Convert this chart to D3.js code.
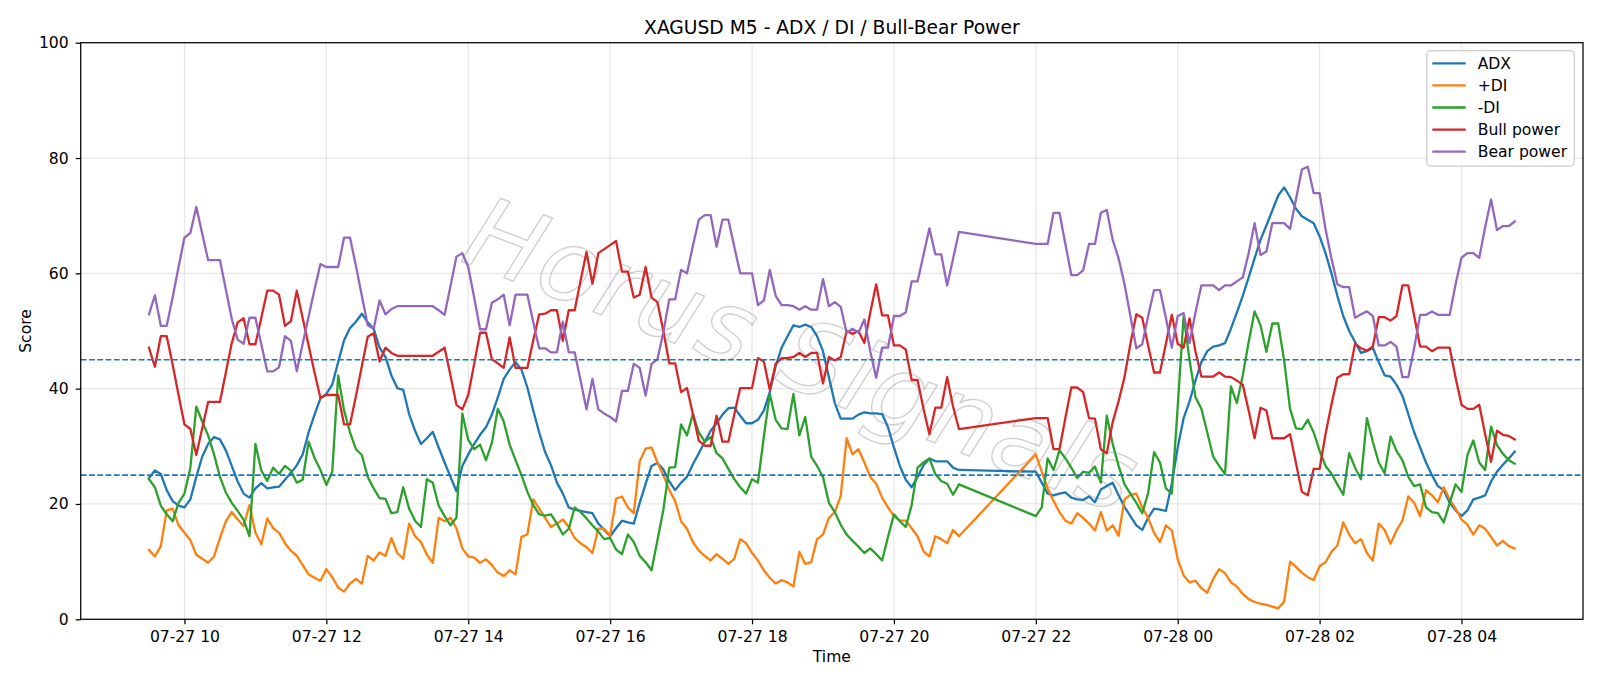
<!DOCTYPE html>
<html>
<head>
<meta charset="utf-8">
<script src="https://cdn.jsdelivr.net/npm/d3@7/dist/d3.min.js"></script>
<style>
  body { margin: 0; background: #fff; }
  svg text { font-family: "DejaVu Sans", sans-serif; }
</style>
</head>
<body>
<script>
// M5 bars, two sessions (market break 21:00 - 22:00)
var sessions = [
    ["2025-07-27 09:30", "2025-07-27 20:55"],
    ["2025-07-27 22:00", "2025-07-28 04:45"]
];

var adx = [
    24.5, 25.8, 25.2, 22.4, 20.5, 19.7, 19.4, 20.8, 24.7, 28.2, 30.4, 31.6, 31.2, 29.3, 26.6, 23.9, 21.8, 21.1, 22.7, 23.6,
    22.7, 22.9, 23.0, 24.2, 25.4, 26.7, 28.6, 32.4, 35.5, 38.3, 39.1, 40.7, 44.6, 48.4, 50.5, 51.6, 53.0, 51.5, 50.4, 47.1,
    45.5, 42.3, 40.1, 39.8, 35.6, 32.7, 30.4, 31.4, 32.5, 29.8, 27.2, 24.7, 22.2, 26.6, 28.6, 30.4, 32.0, 33.3, 35.5, 38.5,
    41.7, 43.3, 44.6, 43.3, 40.2, 36.2, 32.4, 29.0, 26.7, 23.7, 21.8, 19.4, 19.0, 18.8, 18.6, 18.4, 16.6, 15.5, 14.4, 15.8,
    17.1, 16.8, 16.6, 20.2, 23.5, 26.6, 27.1, 26.0, 23.9, 22.4, 23.7, 24.7, 26.9, 28.8, 30.8, 32.7, 34.0, 35.5, 36.6, 36.7,
    35.3, 34.0, 34.0, 34.6, 36.2, 39.4, 43.9, 47.1, 49.1, 51.0, 50.7, 51.1, 50.7, 49.1, 46.5, 42.0, 37.5, 34.8, 34.8, 34.8,
    35.5, 35.9, 35.7, 35.7, 35.6, 33.3, 29.8, 26.6, 24.2, 22.9, 24.7, 26.7, 27.9, 27.4, 27.4, 27.4, 26.3, 25.9,
    25.6, 23.7, 21.8, 21.5, 21.8, 22.0, 21.1, 20.8, 20.7, 21.3, 20.3, 22.5, 23.1, 23.7, 21.5, 19.5, 17.9, 16.3, 15.5, 17.6,
    19.2, 19.0, 18.8, 23.5, 29.8, 34.9, 37.8, 41.4, 44.6, 46.5, 47.3, 47.5, 47.9, 50.4, 53.2, 56.1, 59.3, 62.6, 65.8, 68.3,
    70.9, 73.5, 74.9, 73.2, 71.2, 69.9, 69.3, 68.7, 66.4, 63.5, 60.0, 56.1, 52.6, 50.0, 48.1, 46.2, 46.5, 47.1, 44.6, 42.3,
    42.1, 40.7, 38.8, 35.6, 32.4, 29.8, 27.2, 25.0, 23.1, 22.4, 20.2, 18.9, 17.9, 18.9, 20.8, 21.1, 21.5, 23.9, 25.6, 26.8,
    27.9, 29.1
];

var plusDI = [
    12.0, 10.9, 12.7, 18.9, 19.2, 16.3, 15.0, 13.7, 11.2, 10.5, 9.8, 10.9, 14.1, 17.0, 18.6, 17.3, 16.2, 19.8, 15.0, 13.0,
    17.5, 15.8, 15.0, 13.2, 11.9, 11.0, 9.4, 7.8, 7.2, 6.7, 8.7, 7.3, 5.5, 4.8, 6.2, 7.0, 6.2, 11.0, 10.2, 11.6,
    11.0, 14.1, 11.5, 10.5, 16.6, 14.4, 13.4, 11.2, 9.8, 17.6, 17.0, 17.6, 15.8, 12.3, 10.9, 10.7, 9.8, 10.4, 9.4, 8.1,
    7.5, 8.5, 7.8, 14.3, 14.7, 20.8, 19.2, 17.6, 16.0, 16.6, 17.3, 16.0, 14.1, 13.2, 12.5, 11.5, 15.7, 15.7, 14.5, 20.9,
    21.3, 19.4, 18.4, 27.4, 29.6, 29.8, 27.2, 25.0, 22.4, 20.5, 17.0, 15.7, 13.4, 11.9, 11.0, 10.2, 11.3, 10.5, 9.6, 10.5,
    13.9, 13.2, 11.5, 10.2, 8.5, 7.2, 6.2, 6.8, 6.4, 5.7, 11.7, 9.6, 9.9, 13.9, 14.7, 17.6, 18.6, 21.4, 31.4, 28.6,
    29.5, 27.2, 24.7, 23.5, 21.1, 19.4, 17.9, 17.1, 17.1, 15.8, 14.4, 11.8, 10.9, 14.4, 13.9, 13.2, 15.5, 14.4,
    28.6, 25.6, 22.7, 20.5, 18.6, 17.1, 16.6, 18.4, 17.6, 16.6, 15.4, 18.6, 15.4, 16.3, 14.5, 20.8, 21.6, 21.8, 19.4, 17.6,
    15.0, 13.4, 16.3, 15.4, 10.4, 7.6, 6.4, 6.7, 5.4, 4.6, 7.0, 8.7, 8.0, 6.4, 5.7, 4.4, 3.5, 3.0, 2.7, 2.5,
    2.2, 1.9, 3.1, 10.0, 9.1, 8.1, 7.3, 6.8, 9.2, 9.9, 11.7, 12.8, 16.8, 14.7, 13.2, 13.9, 11.5, 10.2, 16.6, 15.5,
    13.1, 15.4, 17.1, 21.3, 20.2, 17.9, 22.4, 21.5, 20.3, 22.9, 20.8, 19.2, 17.3, 16.4, 14.7, 16.3, 15.7, 14.3, 12.8, 13.6,
    12.7, 12.3
];

var minusDI = [
    24.3, 22.9, 19.7, 18.2, 17.0, 20.2, 21.8, 26.3, 36.9, 34.3, 31.9, 28.6, 24.7, 22.0, 20.2, 18.8, 17.3, 14.4, 30.4, 25.8,
    24.0, 26.3, 25.2, 26.6, 25.8, 23.7, 24.2, 30.8, 28.0, 25.9, 23.3, 25.6, 42.3, 36.2, 32.4, 29.5, 28.5, 24.7, 22.7, 21.0,
    20.9, 18.4, 18.6, 22.9, 19.2, 17.1, 16.0, 24.3, 23.7, 19.7, 17.9, 16.3, 17.6, 35.7, 31.1, 29.5, 30.3, 27.6, 30.6, 36.5,
    34.3, 30.3, 27.6, 25.0, 22.1, 19.8, 18.2, 18.0, 18.2, 16.6, 14.7, 15.7, 19.4, 18.6, 17.5, 16.3, 15.2, 13.9, 14.1, 12.1,
    11.3, 14.7, 13.4, 11.0, 9.9, 8.5, 13.7, 19.0, 26.3, 26.4, 33.8, 31.9, 35.6, 32.4, 30.8, 31.6, 28.8, 27.9, 26.1, 24.3,
    22.9, 21.8, 24.3, 23.7, 31.7, 39.1, 34.6, 33.1, 33.0, 39.1, 31.9, 35.1, 28.2, 26.6, 24.7, 20.2, 18.6, 16.4, 14.7, 13.6,
    12.6, 11.5, 12.3, 11.3, 10.2, 14.3, 18.2, 17.0, 16.0, 19.8, 26.3, 27.2, 27.9, 25.2, 24.0, 23.5, 21.6, 23.4,
    17.9, 19.4, 27.9, 25.9, 29.3, 27.9, 26.3, 24.5, 25.6, 25.4, 26.5, 23.7, 35.3, 30.4, 26.6, 23.4, 21.8, 20.2, 18.4, 21.9,
    29.0, 27.2, 22.7, 21.8, 36.9, 52.6, 45.0, 38.5, 36.5, 32.4, 28.2, 26.6, 25.2, 40.4, 37.5, 42.3, 48.1, 53.4, 51.0, 46.4,
    51.3, 51.3, 44.9, 36.5, 33.1, 33.0, 34.6, 32.4, 29.2, 26.6, 25.3, 23.4, 21.6, 28.8, 26.3, 24.3, 34.9, 30.8, 27.2, 25.3,
    31.7, 29.2, 27.6, 24.7, 23.1, 23.4, 19.4, 18.6, 18.4, 16.8, 20.2, 23.4, 22.1, 28.5, 31.0, 27.2, 25.9, 33.4, 30.2, 28.7,
    27.6, 27.0
];

var bullPower = [
    47.1, 43.8, 49.1, 49.1, 44.2, 38.9, 33.8, 33.0, 28.5, 33.1, 37.7, 37.7, 37.7, 42.8, 47.9, 51.5, 52.2, 47.7, 47.7, 52.3,
    57.0, 57.0, 56.3, 50.9, 51.7, 57.0, 52.2, 47.5, 42.8, 38.4, 38.9, 38.9, 38.9, 33.8, 33.8, 38.7, 43.9, 49.0, 49.6, 44.7,
    47.1, 46.2, 45.7, 45.7, 45.7, 45.7, 45.7, 45.7, 45.7, 46.4, 47.1, 42.3, 37.2, 36.4, 38.9, 44.3, 49.7, 49.7, 45.1, 44.4,
    43.6, 48.9, 43.6, 43.6, 43.6, 48.4, 52.9, 53.0, 53.6, 53.6, 48.3, 53.6, 53.6, 58.7, 63.7, 58.2, 63.5, 64.2, 64.9, 65.6,
    60.3, 60.3, 55.8, 56.3, 61.1, 55.8, 55.0, 50.0, 44.4, 44.4, 39.4, 40.1, 35.6, 31.0, 30.1, 30.1, 35.3, 30.8, 30.8, 35.5,
    40.1, 40.1, 40.1, 45.3, 44.7, 39.8, 44.3, 45.3, 45.3, 45.5, 46.2, 45.5, 46.2, 46.2, 40.9, 45.5, 44.9, 45.5, 50.0, 49.5,
    50.0, 47.9, 53.2, 58.1, 52.7, 52.7, 47.5, 47.5, 46.8, 41.5, 41.5, 36.5, 32.1, 36.7, 36.7, 42.0, 36.9, 33.0,
    34.9, 34.9, 34.9, 29.5, 29.5, 34.9, 40.2, 40.2, 39.4, 34.9, 34.8, 29.5, 28.8, 34.2, 37.8, 42.0, 47.8, 52.9, 52.3, 47.5,
    42.8, 42.8, 47.8, 52.8, 47.8, 47.1, 52.2, 46.5, 42.1, 42.1, 42.1, 42.8, 42.1, 42.0, 41.4, 40.7, 36.2, 31.4, 36.7, 36.2,
    31.4, 31.4, 31.4, 32.1, 27.1, 22.1, 21.5, 26.1, 26.1, 32.1, 37.2, 41.9, 42.5, 42.5, 47.8, 47.0, 46.6, 47.3, 52.4, 52.4,
    51.8, 52.6, 57.9, 57.9, 52.6, 47.3, 47.3, 46.5, 47.1, 47.1, 47.1, 41.9, 37.2, 36.5, 36.5, 37.2, 32.1, 27.3, 32.7, 32.0,
    31.8, 31.2
];

var bearPower = [
    52.9, 56.2, 50.9, 50.9, 55.8, 61.1, 66.2, 67.0, 71.5, 66.9, 62.3, 62.3, 62.3, 57.2, 52.1, 48.5, 47.8, 52.3, 52.3, 47.7,
    43.0, 43.0, 43.7, 49.1, 48.3, 43.0, 47.8, 52.5, 57.2, 61.6, 61.1, 61.1, 61.1, 66.2, 66.2, 61.3, 56.1, 51.0, 50.4, 55.3,
    52.9, 53.8, 54.3, 54.3, 54.3, 54.3, 54.3, 54.3, 54.3, 53.6, 52.8, 57.8, 62.9, 63.5, 61.1, 55.8, 50.3, 50.3, 54.9, 55.5,
    56.3, 51.0, 56.3, 56.3, 56.3, 51.5, 47.0, 47.0, 46.3, 46.3, 51.6, 46.3, 46.3, 41.4, 36.4, 41.7, 36.4, 35.7, 35.1, 34.3,
    39.6, 39.6, 44.3, 43.6, 38.8, 44.3, 45.1, 49.8, 55.5, 55.5, 60.6, 60.0, 64.8, 69.3, 70.1, 70.1, 64.6, 69.3, 69.3, 64.6,
    60.0, 60.0, 60.0, 54.5, 55.3, 60.6, 56.1, 54.5, 54.5, 54.3, 53.7, 54.3, 53.7, 53.7, 59.0, 54.3, 55.0, 54.2, 49.7, 50.4,
    49.7, 52.0, 46.5, 41.9, 47.1, 47.1, 52.6, 52.6, 53.2, 58.6, 58.6, 63.2, 67.8, 63.3, 63.3, 57.9, 62.5, 67.2,
    65.1, 65.1, 65.1, 70.5, 70.5, 65.1, 59.7, 59.7, 60.5, 65.1, 65.1, 70.5, 71.0, 65.8, 62.6, 58.1, 52.6, 47.0, 47.7, 52.6,
    57.1, 57.1, 52.3, 47.1, 52.6, 53.1, 47.9, 53.2, 57.9, 57.9, 57.9, 57.1, 57.9, 57.9, 58.6, 59.3, 63.5, 68.7, 63.2, 63.8,
    68.7, 68.7, 68.7, 67.7, 72.8, 78.0, 78.5, 73.9, 73.9, 67.7, 62.6, 58.1, 57.6, 57.6, 52.3, 52.9, 53.4, 52.6, 47.5, 47.5,
    48.1, 47.3, 42.0, 42.0, 47.1, 52.8, 52.8, 53.4, 52.8, 52.8, 52.8, 58.1, 62.7, 63.5, 63.5, 62.7, 68.0, 72.8, 67.5, 68.2,
    68.2, 69.0
];

var seriesNames = ["ADX", "+DI", "-DI", "Bull power", "Bear power"];
var seriesColors = ["#1f77b4", "#ff7f0e", "#2ca02c", "#d62728", "#9467bd"];
var levels = [45, 25];
var yTicks = [0, 20, 40, 60, 80, 100];

// set the dimensions and margins of the graph
var margin = {top: 42.7, right: 17, bottom: 66.7, left: 80.7},
    width = 1600 - margin.left - margin.right,
    height = 686 - margin.top - margin.bottom;

var parseTime = d3.timeParse("%Y-%m-%d %H:%M");
var formatTick = d3.timeFormat("%m-%d %H");

// bar times of every session
var times = [];
sessions.forEach(function(s) {
    var a = parseTime(s[0]), b = parseTime(s[1]);
    times = times.concat(d3.timeMinute.every(5).range(a, d3.timeMinute.offset(b, 1)));
});

var values = [adx, plusDI, minusDI, bullPower, bearPower];

// matplotlib style 5% margins on the time axis
var t0 = times[0], t1 = times[times.length - 1];
var pad = (t1 - t0) * 0.05;
var x = d3.scaleTime()
    .domain([new Date(+t0 - pad), new Date(+t1 + pad)])
    .range([0, width]);
var y = d3.scaleLinear().domain([0, 100]).range([height, 0]);

var svg = d3.select("body").append("svg")
    .attr("width", 1600)
    .attr("height", 686);

var g = svg.append("g")
    .attr("transform", "translate(" + margin.left + "," + margin.top + ")");

var xTicks = x.ticks(d3.timeHour.every(2));

// grid
g.append("g").selectAll("line").data(xTicks).enter().append("line")
    .attr("x1", function(d) { return x(d); })
    .attr("x2", function(d) { return x(d); })
    .attr("y1", 0).attr("y2", height)
    .attr("stroke", "#b0b0b0").attr("stroke-opacity", 0.3).attr("stroke-width", 1.25);
g.append("g").selectAll("line").data(yTicks).enter().append("line")
    .attr("x1", 0).attr("x2", width)
    .attr("y1", function(d) { return y(d); })
    .attr("y2", function(d) { return y(d); })
    .attr("stroke", "#b0b0b0").attr("stroke-opacity", 0.3).attr("stroke-width", 1.25);

// watermark
g.append("text")
    .attr("transform", "translate(" + (800 - margin.left) + "," + (362 - margin.top) + ") rotate(21)")
    .attr("text-anchor", "middle")
    .attr("dominant-baseline", "middle")
    .style("font-size", "100px")
    .style("font-style", "italic")
    .style("letter-spacing", "2px")
    .attr("fill", "none")
    .attr("stroke", "#999999")
    .attr("stroke-width", 1.4)
    .attr("opacity", 0.45)
    .text("Horus Signals");

var line = d3.line()
    .x(function(d) { return x(d[0]); })
    .y(function(d) { return y(d[1]); });

values.forEach(function(vals, i) {
    var pts = times.map(function(t, k) { return [t, vals[k]]; });
    g.append("path")
        .datum(pts)
        .attr("fill", "none")
        .attr("stroke", seriesColors[i])
        .attr("stroke-width", 2.3)
        .attr("stroke-linejoin", "round")
        .attr("stroke-linecap", "square")
        .attr("d", line);
});

// threshold lines
g.append("g").selectAll("line").data(levels).enter().append("line")
    .attr("x1", 0).attr("x2", width)
    .attr("y1", function(d) { return y(d); })
    .attr("y2", function(d) { return y(d); })
    .attr("stroke", "#1f77b4")
    .attr("stroke-width", 1.56)
    .attr("stroke-dasharray", "5.8,2.5");

// axes
var xAxis = g.append("g")
    .attr("transform", "translate(0," + height + ")")
    .call(d3.axisBottom(x).tickValues(xTicks).tickFormat(formatTick).tickSize(5).tickPadding(6.5));
var yAxis = g.append("g")
    .call(d3.axisLeft(y).tickValues(yTicks).tickSize(5).tickPadding(7));
[xAxis, yAxis].forEach(function(a) {
    a.select(".domain").remove();
    a.selectAll(".tick line").attr("stroke", "#000").attr("stroke-width", 1.25);
    a.selectAll(".tick text").attr("fill", "#000")
        .style("font-size", "15.6px").style("font-family", "DejaVu Sans, sans-serif");
});

// spines
g.append("rect")
    .attr("width", width).attr("height", height)
    .attr("fill", "none").attr("stroke", "#000").attr("stroke-width", 1.25);

// labels
svg.append("text")
    .attr("x", margin.left + width / 2).attr("y", 33.5)
    .attr("text-anchor", "middle")
    .style("font-size", "18.7px")
    .text("XAGUSD M5 - ADX / DI / Bull-Bear Power");
svg.append("text")
    .attr("x", margin.left + width / 2).attr("y", 661.5)
    .attr("text-anchor", "middle")
    .style("font-size", "15.6px")
    .text("Time");
svg.append("text")
    .attr("transform", "translate(31," + (margin.top + height / 2) + ") rotate(-90)")
    .attr("text-anchor", "middle")
    .style("font-size", "15.6px")
    .text("Score");

// legend
var lg = svg.append("g").attr("transform", "translate(1426.7,50.7)");
lg.append("rect")
    .attr("width", 147.6).attr("height", 115.3)
    .attr("rx", 4)
    .attr("fill", "#fff").attr("fill-opacity", 0.8)
    .attr("stroke", "#cccccc").attr("stroke-width", 1.25);
seriesNames.forEach(function(name, i) {
    var cy = 12.6 + i * 22.1;
    lg.append("line")
        .attr("x1", 5.6).attr("x2", 39)
        .attr("y1", cy).attr("y2", cy)
        .attr("stroke", seriesColors[i]).attr("stroke-width", 2.3);
    lg.append("text")
        .attr("x", 51).attr("y", cy + 5.6)
        .style("font-size", "15.6px")
        .text(name);
});
</script>
</body>
</html>
